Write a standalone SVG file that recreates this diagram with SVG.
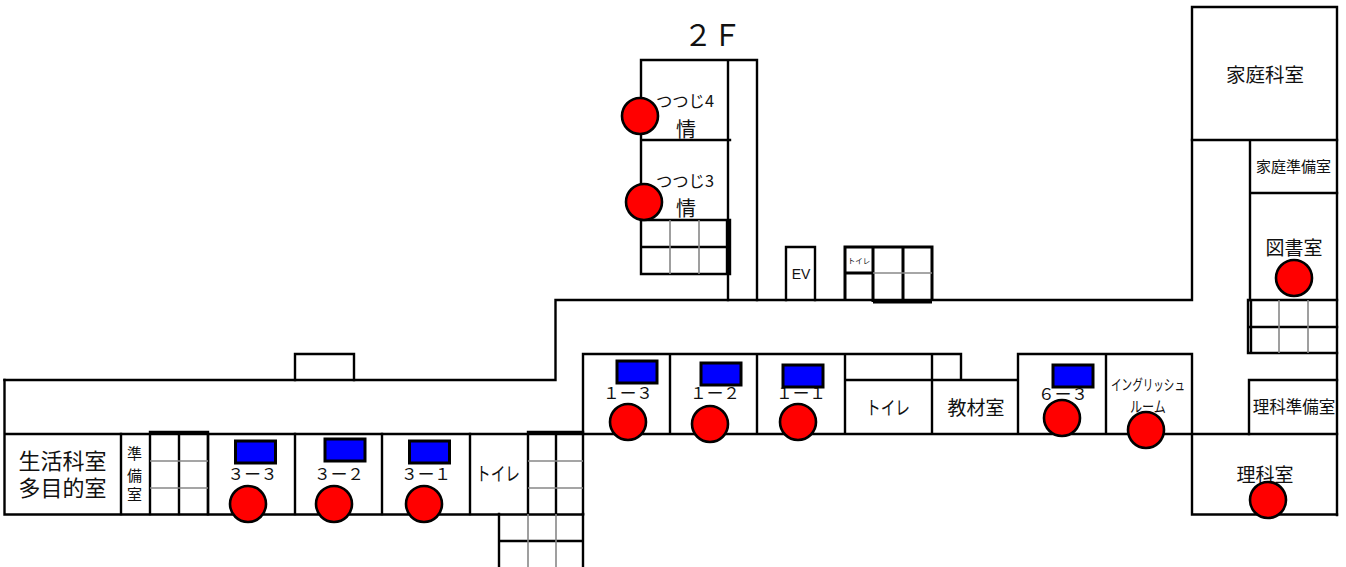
<svg xmlns="http://www.w3.org/2000/svg" width="1346" height="567" viewBox="0 0 1346 567">
<style>
.w{fill:none;stroke:#000;stroke-width:2.4;stroke-linecap:square}
.t{fill:none;stroke:#000;stroke-width:3}
.g{fill:none;stroke:#888;stroke-width:1.6}
.d{fill:#f00;stroke:#000;stroke-width:2.6}
.b{fill:#00f;stroke:#000;stroke-width:3}
text{font-family:"Noto Sans CJK JP","Liberation Sans",sans-serif;fill:#111;text-anchor:middle;dominant-baseline:central}
.n{font-size:16px}
</style>
<rect width="1346" height="567" fill="#fff"/>
<g id="walls">
<path class="w" d="M4.500 380H555.500V300H1192V7H1337V515"/>
<path class="w" d="M295 380V354H354V380"/>
<path class="w" d="M4.500 380V514.500H583M4.500 434H583"/>
<path class="w" d="M121 434V514M208 434V514M295 434V514M382 434V514M470 434V514"/>
<path class="w" d="M583 434V354H961V380M583 434H1337M670 354V434M757 354V434M845 354V434M932 354V434M845 380H1018M1018 380V354H1192V514.500H1337M1018 354V434M1106 354V434"/>
<path class="w" d="M1249 434V380H1337"/>
<path class="w" d="M1192 140H1337M1250 140V300M1250 193H1337"/>
<path class="w" d="M641 60H757V300M728 60V300M641 60V220M641 140H730"/>
<path class="w" d="M786 300V247H815V300"/>
<path class="t" d="M845 300V247H932V301M873 247V302M903 247V300M845 273H873M873 302H932"/>
<path class="g" d="M873 273H932"/>
</g>
<g id="stairs">
<path class="w" d="M641 220H730V274H641V220ZM641 247H727M727 220V274"/>
<path class="g" d="M670 220V274M699 220V274"/>
<path class="w" d="M150 432H208V514M150 432V514M179 434V514"/>
<path class="g" d="M150 461H208M150 488H208"/>
<path class="w" d="M528 432H583V514M528 432V514M556 434V514"/>
<path class="g" d="M528 461H583M528 488H583"/>
<path class="w" d="M499 514V567M583 514V567M499 541H583"/>
<path class="g" d="M528 514V567M556 514V567"/>
<path class="w" d="M1248 300H1337M1248 327H1337M1248 353H1337M1248 300V353M1251 300V353"/>
<path class="g" d="M1279 300V353M1308 300V353"/>
</g>
<g id="title"><text x="712.500" y="33" font-size="30" textLength="58" lengthAdjust="spacingAndGlyphs">２Ｆ</text></g>
<g id="tsutsuji4"><text x="685" y="100" font-size="16" textLength="58" lengthAdjust="spacingAndGlyphs">つつじ4</text><text x="686" y="128" font-size="20">情</text><circle class="d" cx="640" cy="116" r="18"/></g>
<g id="tsutsuji3"><text x="685" y="180" font-size="16" textLength="58" lengthAdjust="spacingAndGlyphs">つつじ3</text><text x="686" y="207" font-size="20">情</text><circle class="d" cx="644" cy="202" r="18"/></g>
<g id="ev"><text x="801" y="274" font-size="14" style="font-family:'Liberation Sans',sans-serif">EV</text></g>
<g id="toilet-small"><text x="859" y="260" font-size="7.500">トイレ</text></g>
<g id="seikatsu"><text x="62.500" y="459" font-size="22">生活科室</text><text x="62.500" y="486" font-size="22">多目的室</text></g>
<g id="junbi"><text x="134.500" y="452" font-size="15">準</text><text x="134.500" y="474" font-size="15">備</text><text x="134.500" y="493" font-size="15">室</text></g>
<g id="r3-3"><rect class="b" x="235.500" y="441" width="40" height="22"/><text class="n" x="252.500" y="473" textLength="50" lengthAdjust="spacingAndGlyphs">３ー３</text><circle class="d" cx="248" cy="504" r="18"/></g>
<g id="r3-2"><rect class="b" x="325" y="439" width="40" height="22"/><text class="n" x="339" y="473" textLength="50" lengthAdjust="spacingAndGlyphs">３ー２</text><circle class="d" cx="334" cy="504" r="18"/></g>
<g id="r3-1"><rect class="b" x="409.500" y="441" width="40" height="22"/><text class="n" x="426" y="473" textLength="50" lengthAdjust="spacingAndGlyphs">３ー１</text><circle class="d" cx="424" cy="504" r="18"/></g>
<g id="toilet-1"><text x="498" y="472" font-size="19" textLength="44" lengthAdjust="spacingAndGlyphs">トイレ</text></g>
<g id="r1-3"><rect class="b" x="617" y="361" width="40" height="22"/><text class="n" x="628" y="392" textLength="50" lengthAdjust="spacingAndGlyphs">１ー３</text><circle class="d" cx="628" cy="422" r="18"/></g>
<g id="r1-2"><rect class="b" x="701" y="363" width="40" height="22"/><text class="n" x="715" y="392" textLength="50" lengthAdjust="spacingAndGlyphs">１ー２</text><circle class="d" cx="710" cy="424" r="18"/></g>
<g id="r1-1"><text class="n" x="801" y="392" textLength="50" lengthAdjust="spacingAndGlyphs">１ー１</text><rect class="b" x="783" y="365" width="40" height="22"/><circle class="d" cx="798" cy="422" r="18"/></g>
<g id="toilet-2"><text x="888" y="406" font-size="19" textLength="44" lengthAdjust="spacingAndGlyphs">トイレ</text></g>
<g id="kyozai"><text x="976" y="406" font-size="19">教材室</text></g>
<g id="r6-3"><rect class="b" x="1053" y="365" width="40" height="22"/><text class="n" x="1063" y="393" textLength="50" lengthAdjust="spacingAndGlyphs">６ー３</text><circle class="d" cx="1062" cy="418" r="18"/></g>
<g id="english"><text x="1148" y="383" font-size="15" textLength="74" lengthAdjust="spacingAndGlyphs">イングリッシュ</text><text x="1148" y="405" font-size="15" textLength="36" lengthAdjust="spacingAndGlyphs">ルーム</text><circle class="d" cx="1146" cy="430" r="18"/></g>
<g id="rika-junbi"><text x="1294" y="406" font-size="16.500">理科準備室</text></g>
<g id="rika"><text x="1265" y="473" font-size="19">理科室</text><circle class="d" cx="1268" cy="500" r="18"/></g>
<g id="katei"><text x="1265" y="73" font-size="19.500">家庭科室</text></g>
<g id="katei-junbi"><text x="1293.500" y="165" font-size="15">家庭準備室</text></g>
<g id="tosho"><text x="1294" y="246" font-size="19">図書室</text><circle class="d" cx="1294" cy="278" r="18"/></g>
</svg>
